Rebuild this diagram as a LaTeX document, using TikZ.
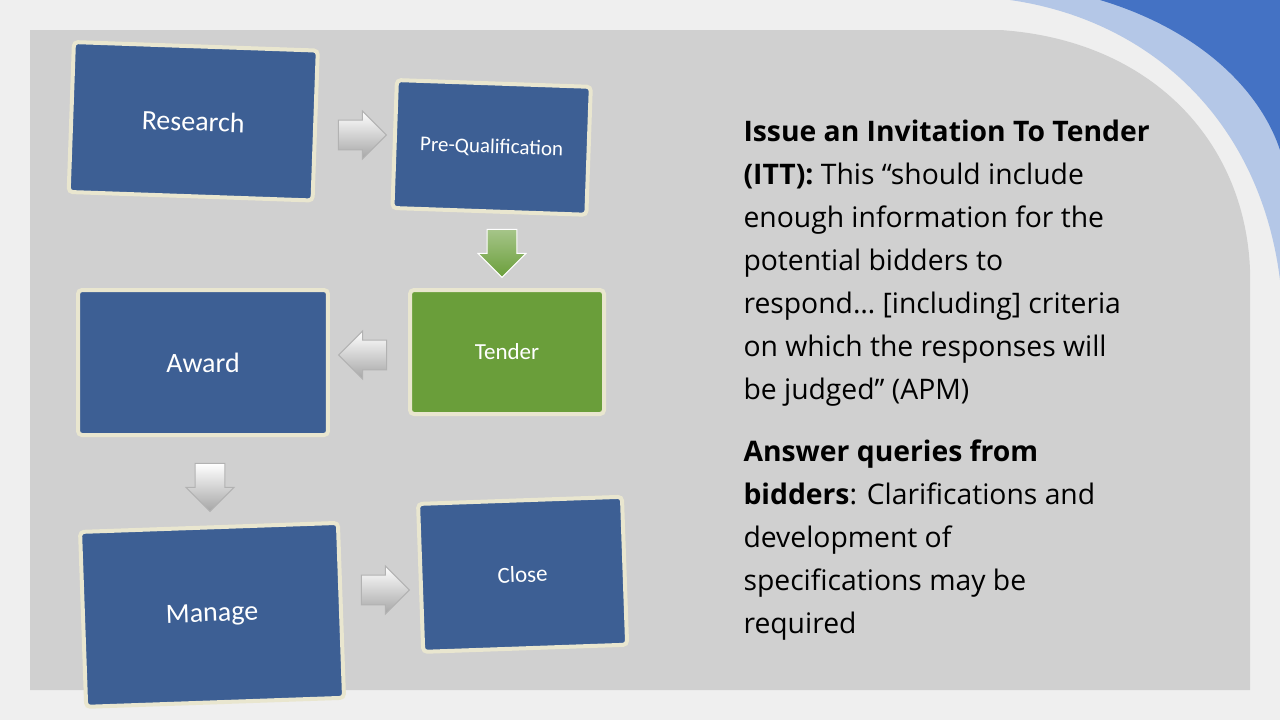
\documentclass[tikz,border=0pt]{standalone}
\usepackage{fontspec}
\setmainfont{Carlito}
\newfontfamily\bodyfont{Open Sans}
\usetikzlibrary{positioning,shapes.arrows}
\definecolor{boxblue}{HTML}{3D5F94}
\definecolor{boxgreen}{HTML}{6A9E3A}
\definecolor{rim}{HTML}{E9E6CF}
\definecolor{panel}{HTML}{D0D0D0}
\definecolor{back}{HTML}{EFEFEF}
\definecolor{deco}{HTML}{4472C4}
\definecolor{decolight}{HTML}{B4C7E7}
\begin{document}
\begin{tikzpicture}[x=1pt,y=-1pt,
  stage/.style={draw=rim,line width=4pt,fill=boxblue,rounded corners=4pt,text=white,font=\fontsize{28}{32}\selectfont,anchor=north west,rotate=-2},
  flow/.style={single arrow,draw=gray!60,line width=1pt,top color=white,bottom color=gray!70,minimum height=48pt,minimum width=48pt,single arrow head extend=4pt,inner sep=6pt},
  para/.style={anchor=north west,align=left,font=\bodyfont\fontsize{28.3}{43}\selectfont}]
\useasboundingbox (0,0) rectangle (1280,720);
\fill[back] (0,0) rectangle (1280,720);
% corner decoration
\fill[decolight] (1010,0) .. controls (1150,20) and (1260,120) .. (1280,280) -- (1280,0) -- cycle;
\fill[deco] (1100,0) .. controls (1200,30) and (1260,90) .. (1280,150) -- (1280,0) -- cycle;
\fill[panel] (30,30) -- (1000,30) .. controls (1150,40) and (1245,140) .. (1250,270) -- (1250,690) -- (30,690) -- cycle;
% stages
\node[stage,minimum width=244pt,minimum height=150pt] (research) at (72,40) {Research};
\node[stage,minimum width=194pt,minimum height=128pt,font=\fontsize{21}{24}\selectfont] (prequal) at (395,78) {Pre-Qualification};
\node[stage,fill=boxgreen,minimum width=194pt,minimum height=124pt,font=\fontsize{23}{26}\selectfont,rotate=2] (tender) at (408,288) {Tender};
\node[stage,minimum width=250pt,minimum height=145pt,rotate=2] (award) at (76,288) {Award};
\node[stage,minimum width=258pt,minimum height=175pt,rotate=4] (manage) at (78,530) {Manage};
\node[stage,minimum width=204pt,minimum height=148pt,font=\fontsize{23}{26}\selectfont,rotate=4] (close) at (416,502) {Close};
% arrows between stages
\node[flow] (a1) at (355,135) {};
\node[flow,rotate=-90,top color=boxgreen!60,bottom color=boxgreen,draw=white] (a2) at (502,246) {};
\node[flow,rotate=180] (a3) at (370,355) {};
\node[flow,rotate=-90] (a4) at (210,480) {};
\node[flow] (a5) at (378,590) {};
% text
\node[para] (txt) at (740,116) {%
\textbf{Issue an Invitation To Tender}\\
\textbf{(ITT):} This “should include\\
enough information for the\\
potential bidders to\\
respond… [including] criteria\\
on which the responses will\\
be judged” (APM)};
\node[para,below=27pt of txt.south west,anchor=north west] (txt2) {%
\textbf{Answer queries from}\\
\textbf{bidders}: Clarifications and\\
development of\\
specifications may be\\
required};
\end{tikzpicture}
\end{document}
